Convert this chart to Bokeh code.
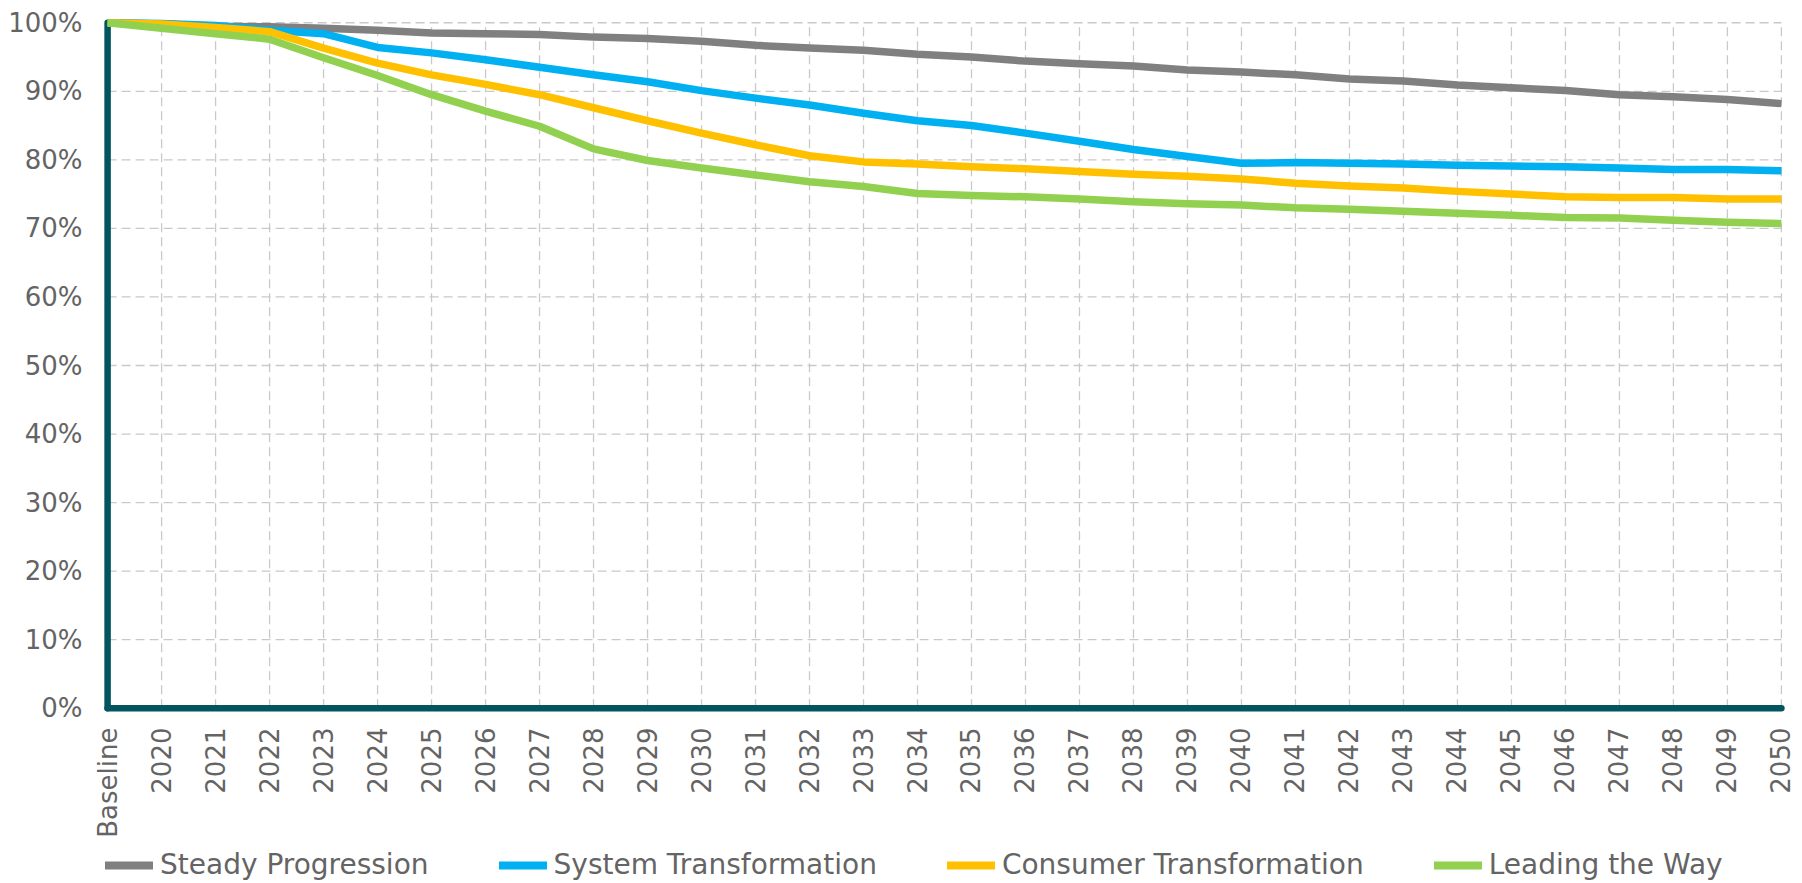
import math
from bokeh.plotting import figure
from bokeh.layouts import column
from bokeh.models import Range1d, FixedTicker, Legend, LegendItem
from bokeh.embed import file_html
from bokeh.resources import INLINE

# ---------------- data ----------------
categories = ["Baseline", "2020", "2021", "2022", "2023", "2024", "2025", "2026",
              "2027", "2028", "2029", "2030", "2031", "2032", "2033", "2034",
              "2035", "2036", "2037", "2038", "2039", "2040", "2041", "2042",
              "2043", "2044", "2045", "2046", "2047", "2048", "2049", "2050"]

steady_progression = [100, 99.8, 99.5, 99.4, 99.2, 98.9, 98.5, 98.4, 98.3, 97.9,
                      97.7, 97.3, 96.7, 96.3, 96.0, 95.4, 95.0, 94.4, 94.0, 93.7,
                      93.1, 92.8, 92.4, 91.8, 91.5, 90.9, 90.5, 90.1, 89.5, 89.2,
                      88.8, 88.2]
system_transformation = [100, 99.9, 99.6, 98.9, 98.4, 96.4, 95.6, 94.6, 93.5, 92.4,
                         91.4, 90.1, 89.0, 88.0, 86.8, 85.7, 85.0, 83.9, 82.7, 81.5,
                         80.5, 79.5, 79.6, 79.5, 79.4, 79.2, 79.1, 79.0, 78.8, 78.6,
                         78.6, 78.4]
consumer_transformation = [100, 99.8, 99.3, 98.7, 96.3, 94.1, 92.4, 91.0, 89.5, 87.6,
                           85.7, 83.9, 82.2, 80.6, 79.7, 79.4, 79.0, 78.7, 78.3, 77.9,
                           77.6, 77.2, 76.6, 76.2, 75.9, 75.4, 75.0, 74.6, 74.5, 74.5,
                           74.3, 74.3]
leading_the_way = [100, 99.2, 98.4, 97.6, 94.9, 92.3, 89.5, 87.1, 84.9, 81.6,
                   79.9, 78.8, 77.8, 76.8, 76.1, 75.1, 74.8, 74.6, 74.3, 73.9,
                   73.6, 73.4, 73.0, 72.8, 72.5, 72.2, 71.9, 71.6, 71.5, 71.2,
                   70.9, 70.7]

series_names = ["Steady Progression", "System Transformation",
                "Consumer Transformation", "Leading the Way"]
series_colors = ["#808080", "#00B0F0", "#FFC000", "#92D050"]

y_ticks = [0, 10, 20, 30, 40, 50, 60, 70, 80, 90, 100]
y_tick_labels = ["0%", "10%", "20%", "30%", "40%", "50%", "60%", "70%", "80%", "90%", "100%"]

# ---------------- styles ----------------
FONT = "DejaVu Sans"
TXT = "#646464"
AXIS = "#02545E"
GRID = "#C9C9C9"

n = len(categories)
xs = list(range(n))
all_series = [steady_progression, system_transformation,
              consumer_transformation, leading_the_way]

# ---------------- main chart ----------------
p = figure(width=1802, height=845,
           x_range=Range1d(-0.15, n - 1 + 0.15),
           y_range=Range1d(-1.2, 101.2),
           output_backend="svg", toolbar_location=None,
           min_border_left=99, min_border_right=13,
           min_border_top=14, min_border_bottom=129)

p.outline_line_color = None
p.xgrid.grid_line_color = None
p.ygrid.grid_line_color = None
p.background_fill_color = "white"
p.border_fill_color = "white"

p.xaxis.ticker = FixedTicker(ticks=xs)
p.xaxis.major_label_overrides = {i: c for i, c in enumerate(categories)}
p.xaxis.major_label_orientation = math.pi / 2
p.yaxis.ticker = FixedTicker(ticks=y_ticks)
p.yaxis.major_label_overrides = {t: l for t, l in zip(y_ticks, y_tick_labels)}
for ax in (p.xaxis, p.yaxis):
    ax.axis_line_color = None
    ax.major_tick_line_color = None
    ax.minor_tick_line_color = None
    ax.major_tick_out = 0
    ax.major_tick_in = 0
    ax.major_label_text_font = FONT
    ax.major_label_text_font_size = "26px"
    ax.major_label_text_color = TXT
p.yaxis.major_label_standoff = 17
p.xaxis.major_label_standoff = 11

# dashed grid
p.segment(x0=xs, y0=[y_ticks[0]] * n, x1=xs, y1=[y_ticks[-1]] * n,
          line_color=GRID, line_width=1.3, line_dash="9 5")
p.segment(x0=[xs[0]] * (len(y_ticks) - 1), y0=y_ticks[1:],
          x1=[xs[-1]] * (len(y_ticks) - 1), y1=y_ticks[1:],
          line_color=GRID, line_width=1.3, line_dash="9 5")

# thick axis lines
p.line(x=[xs[0], xs[0]], y=[y_ticks[0], y_ticks[-1]], line_color=AXIS,
       line_width=6.5, line_cap="round")
p.line(x=[xs[0], xs[-1]], y=[y_ticks[0], y_ticks[0]], line_color=AXIS,
       line_width=6.5, line_cap="round")

for vals, col in zip(all_series, series_colors):
    p.line(x=xs, y=vals, line_color=col, line_width=7.5, line_join="round")

# ---------------- legend strip ----------------
# the series are drawn again here, outside the visible range, only to feed the legend
lg = figure(width=1802, height=38, x_range=Range1d(0, 1), y_range=Range1d(1000, 1001),
            output_backend="svg", toolbar_location=None,
            x_axis_location=None, y_axis_location=None, min_border=0)
lg.outline_line_color = None
lg.xgrid.grid_line_color = None
lg.ygrid.grid_line_color = None

items = []
for name, vals, col in zip(series_names, all_series, series_colors):
    r = lg.line(x=xs, y=vals, line_color=col, line_width=8, line_cap="round")
    items.append(LegendItem(label=name, renderers=[r]))

legend = Legend(items=items, orientation="horizontal", location=(6, 2),
                glyph_width=48, glyph_height=32, label_height=32,
                label_standoff=7, spacing=70, padding=0, margin=0,
                border_line_color=None, background_fill_alpha=0,
                label_text_font=FONT, label_text_font_size="28px",
                label_text_color=TXT)
lg.add_layout(legend)

layout = column(p, lg, spacing=0)
open("out.html", "w").write(file_html(layout, INLINE))
